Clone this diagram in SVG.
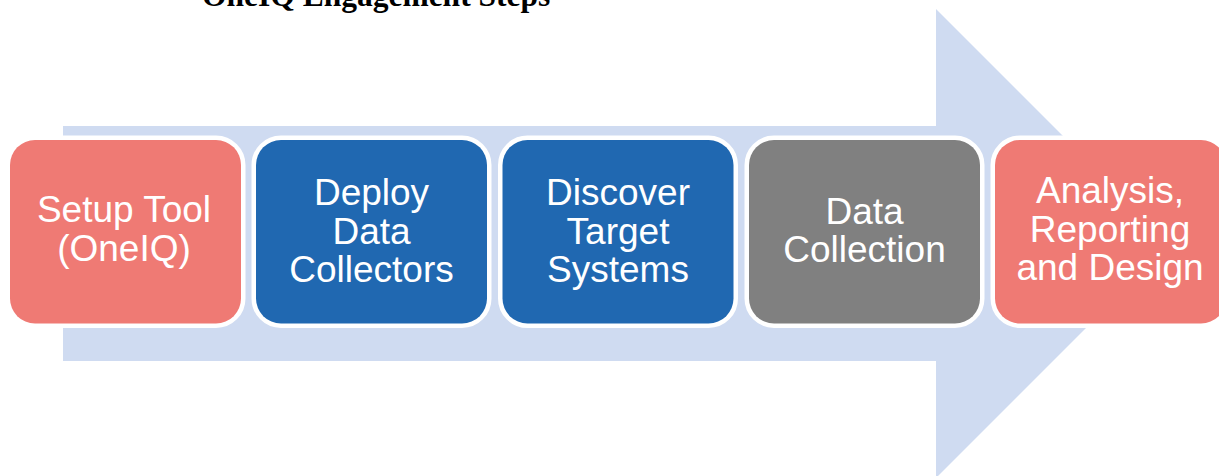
<svg xmlns="http://www.w3.org/2000/svg" width="1219" height="476" viewBox="0 0 1219 476">
  <style>
    .step { stroke: #FFFFFF; stroke-width: 9; paint-order: stroke; }
    .salmon { fill: #EF7A74; }
    .blue { fill: #2068B1; }
    .gray { fill: #808080; }
    .label { font-family: "Liberation Sans", Arial, sans-serif; font-size: 37px; fill: #FFFFFF; text-anchor: middle; }
    .title { font-family: "Liberation Serif", "Times New Roman", serif; font-size: 31.5px; font-weight: bold; fill: #000000; }
  </style>

  <rect width="1219" height="476" fill="#FFFFFF"/>

  <!-- Title, partly above the top edge -->
  <text class="title" x="202" y="6">OneIQ Engagement Steps</text>

  <!-- Background process arrow -->
  <g id="connectors">
    <polygon points="63,126 936,126 936,9 1170.5,243.5 936,478 936,361 63,361" fill="#CFDBF1"/>
  </g>

  <g id="step1">
    <rect class="step salmon" x="10" y="140" width="231" height="183.5" rx="25"/>
    <text class="label" x="124" y="222">Setup Tool</text>
    <text class="label" x="124" y="261">(OneIQ)</text>
  </g>

  <g id="step2">
    <rect class="step blue" x="256" y="140" width="231" height="183.5" rx="25"/>
    <text class="label" x="371.5" y="205">Deploy</text>
    <text class="label" x="371.5" y="243.5">Data</text>
    <text class="label" x="371.5" y="282">Collectors</text>
  </g>

  <g id="step3">
    <rect class="step blue" x="502.5" y="140" width="231" height="183.5" rx="25"/>
    <text class="label" x="618" y="205">Discover</text>
    <text class="label" x="618" y="243.5">Target</text>
    <text class="label" x="618" y="282">Systems</text>
  </g>

  <g id="step4">
    <rect class="step gray" x="749" y="140" width="231" height="183.5" rx="25"/>
    <text class="label" x="864.5" y="223.5">Data</text>
    <text class="label" x="864.5" y="262">Collection</text>
  </g>

  <g id="step5">
    <rect class="step salmon" x="995" y="140" width="231" height="183.5" rx="25"/>
    <text class="label" x="1110" y="203">Analysis,</text>
    <text class="label" x="1110" y="241.5">Reporting</text>
    <text class="label" x="1110" y="280">and Design</text>
  </g>
</svg>
